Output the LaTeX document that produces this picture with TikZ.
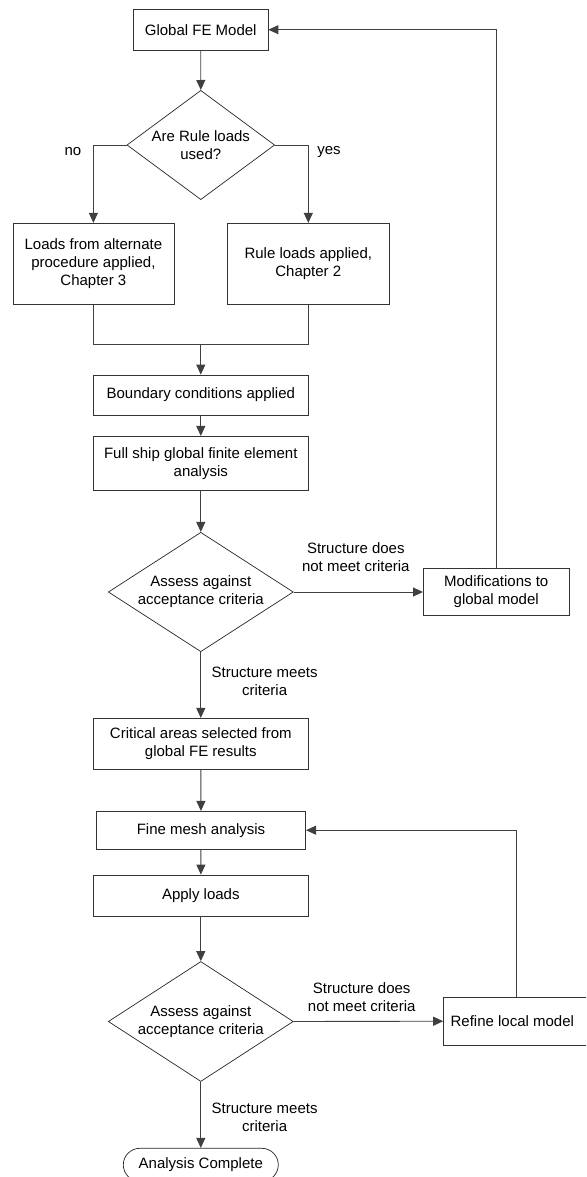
\documentclass[tikz,border=0pt]{standalone}
\usepackage{fontspec}
\setmainfont{Liberation Sans}
\usetikzlibrary{shapes.geometric,shapes.misc,arrows.meta}
\newcommand{\flowfont}{\fontsize{15}{18}\selectfont}
\begin{document}
\begin{tikzpicture}[x=1pt,y=-1pt,
  every node/.style={font=\flowfont, text=black},
  procbox/.style={draw=black!80, line width=0.8pt, rectangle, inner sep=0pt, align=center},
  decbox/.style={draw=black!85, line width=0.7pt, diamond, inner sep=0pt},
  termbox/.style={draw=black!85, line width=0.7pt, rounded rectangle, inner sep=0pt, align=center},
  lbl/.style={align=center, inner sep=0pt},
  flow/.style={draw=black!75, line width=0.9pt},
  arr/.style={flow, -{Triangle[length=10pt,width=9pt]}}]
\useasboundingbox (0,0) rectangle (586,1177);
\clip (0,0) rectangle (586,1177);

% global stage
\node[procbox, minimum width=134.6pt, minimum height=40.7pt] (glob) at (200.7,29.7) {Global FE Model};
\node[decbox, minimum width=147.7pt, minimum height=109.3pt] (d1) at (200.8,145) {};
\node[lbl] (d1t) at (200.8,145) {Are Rule loads\\used?};
\node[procbox, minimum width=161pt, minimum height=81pt] (alt) at (93.4,263.8) {Loads from alternate\\procedure applied,\\Chapter 3};
\node[procbox, minimum width=161.4pt, minimum height=81pt] (rule) at (308.3,263.8) {Rule loads applied,\\Chapter 2};
\coordinate (join) at (200.8,344.3);
\node[procbox, minimum width=215pt, minimum height=40pt] (bc) at (200.8,395) {Boundary conditions applied};
\node[procbox, minimum width=215pt, minimum height=53.7pt] (full) at (200.8,463.2) {Full ship global finite element\\analysis};
\node[decbox, minimum width=185pt, minimum height=119.4pt] (d2) at (200.8,592) {};
\node[lbl] (d2t) at (200.8,592) {Assess against\\acceptance criteria};
\node[procbox, minimum width=145.6pt, minimum height=47.4pt] (mod) at (496.2,592) {Modifications to\\global model};
\node[procbox, minimum width=215pt, minimum height=50.7pt] (crit) at (200.8,743.7) {Critical areas selected from\\global FE results};

% local stage
\node[procbox, minimum width=209.3pt, minimum height=37.7pt] (fine) at (201,830.2) {Fine mesh analysis};
\node[procbox, minimum width=215pt, minimum height=41pt] (apply) at (200.8,895.5) {Apply loads};
\node[decbox, minimum width=185pt, minimum height=120pt] (d3) at (200.8,1021.5) {};
\node[lbl] (d3t) at (200.8,1021.5) {Assess against\\acceptance criteria};
\node[procbox, minimum width=146.4pt, minimum height=47.7pt] (refine) at (516.8,1021.2) {\hspace*{-4.5pt}Refine local model\hspace*{4.5pt}};
\node[termbox, minimum width=155pt, minimum height=33pt] (done) at (200.8,1164.8) {Analysis Complete};

% branch labels
\node[lbl] (lno) at (73,152) {no};
\node[lbl] (lyes) at (329,152) {yes};
\node[lbl] (lfail1) at (355.8,557) {Structure does\\not meet criteria};
\node[lbl] (lpass1) at (264.6,681) {Structure meets\\criteria};
\node[lbl] (lfail2) at (361.7,997.2) {Structure does\\not meet criteria};
\node[lbl] (lpass2) at (264.6,1117.5) {Structure meets\\criteria};

% connectors
\draw[arr] (glob) -- (d1.north);
\draw[arr] (d1.west) -| (alt.north);
\draw[arr] (d1.east) -| (rule.north);
\draw[flow] (alt.south) |- (join);
\draw[flow] (rule.south) |- (join);
\draw[arr] (join) -- (bc.north);
\draw[arr] (bc) -- (full);
\draw[arr] (full) -- (d2.north);
\draw[arr] (d2.east) -- (mod.west);
\draw[arr] (mod.north) |- (glob.east);
\draw[arr] (d2.south) -- (crit.north);
\draw[arr] (crit) -- (fine);
\draw[arr] (fine) -- (apply);
\draw[arr] (apply) -- (d3.north);
\draw[arr] (d3.east) -- (refine.west);
\draw[arr] (refine.north) |- (fine.east);
\draw[arr] (d3.south) -- (done.north);
\end{tikzpicture}
\end{document}
